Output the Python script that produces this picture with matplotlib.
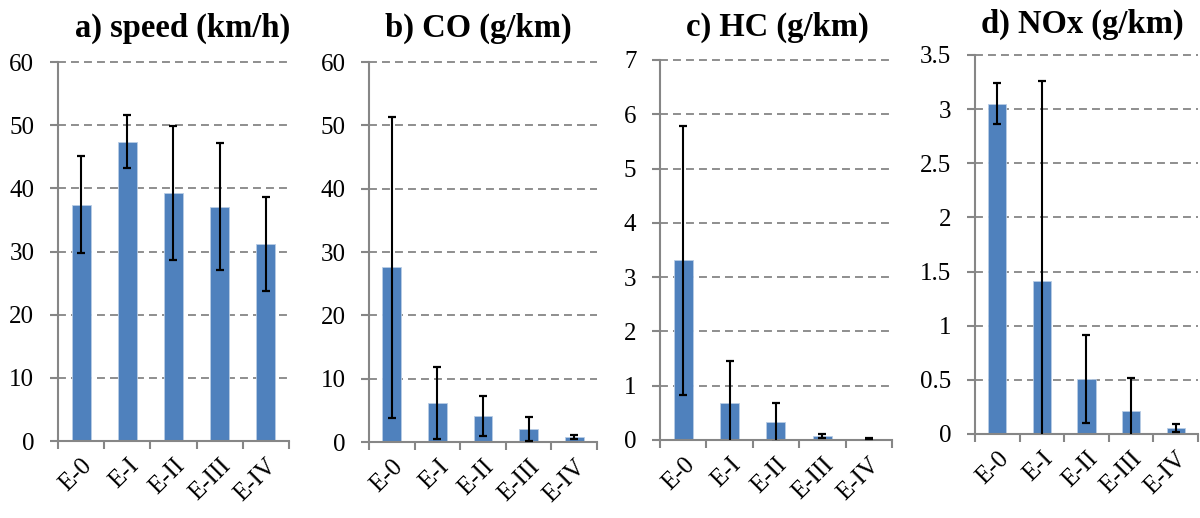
import matplotlib
matplotlib.use("Agg")
from matplotlib import pyplot as plt

# emission classes on the x axis
classes = ["E-0", "E-I", "E-II", "E-III", "E-IV"]

# mean values and standard deviations per class
speed = [37.4, 47.4, 39.2, 37.1, 31.2]
speed_sd = [7.7, 4.25, 10.6, 10.0, 7.4]

co = [27.6, 6.2, 4.1, 2.0, 0.74]
co_sd = [23.75, 5.7, 3.1, 1.9, 0.3]

hc = [3.31, 0.68, 0.33, 0.08, 0.025]
hc_sd = [2.48, 0.77, 0.36, 0.035, 0.01]

nox = [3.05, 1.41, 0.505, 0.21, 0.055]
nox_sd = [0.19, 1.85, 0.405, 0.31, 0.04]

titles = ["a) speed (km/h)", "b) CO (g/km)", "c) HC (g/km)", "d) NOx (g/km)"]
ymax = [60, 60, 7, 3.5]
ystep = [10, 10, 1, 0.5]

# axes boxes [left, bottom, width, height] and title centres
boxes = [
    [0.0483, 0.1486, 0.1925, 0.7317],
    [0.3075, 0.1467, 0.1900, 0.7336],
    [0.5500, 0.1506, 0.1933, 0.7336],
    [0.8125, 0.1622, 0.1858, 0.7317],
]
title_pos = [(0.152, 0.946), (0.399, 0.946), (0.648, 0.948), (0.902, 0.952)]

bar_color = "#4F81BD"
axis_grey = "#868686"

plt.rcParams["font.family"] = ["Liberation Serif", "DejaVu Serif"]

fig = plt.figure(figsize=(12, 5.18), dpi=100)

data = [(speed, speed_sd), (co, co_sd), (hc, hc_sd), (nox, nox_sd)]

for i, (vals, sd) in enumerate(data):
    ax = fig.add_axes(boxes[i])
    x = range(len(classes))
    ax.bar(x, vals, width=0.41, color=bar_color, edgecolor="#B9CDE5",
           linewidth=0.6, zorder=2)
    ax.errorbar(x, vals, yerr=sd, fmt="none", ecolor="black", elinewidth=1.5,
                capsize=3, capthick=1.6, zorder=3)

    ax.set_xlim(-0.5, len(classes) - 0.5)
    ax.set_ylim(0, ymax[i])
    n = int(round(ymax[i] / ystep[i]))
    yt = [k * ystep[i] for k in range(n + 1)]
    ax.set_yticks(yt)
    ax.set_yticklabels([("%g" % v) for v in yt], fontsize=18,
                       family="Liberation Serif")

    # category boundary ticks below the axis, labels in the middle
    ax.set_xticks([k - 0.5 for k in range(len(classes) + 1)])
    ax.set_xticklabels([])
    ax.set_xticks(list(x), minor=True)
    ax.set_xticklabels(classes, minor=True, rotation=45, ha="right",
                       rotation_mode="anchor", fontsize=18,
                       family="Liberation Serif")
    ax.tick_params(axis="x", which="minor", length=0, pad=10)
    ax.tick_params(axis="x", which="major", length=6, color=axis_grey, width=1.5)
    ax.tick_params(axis="y", length=6, color=axis_grey, width=1.5, pad=11)

    for yv in yt[1:]:
        ax.axhline(yv, color=axis_grey, linestyle=(0, (4.4, 2.8)), linewidth=1.3,
                   zorder=1, clip_on=False)

    for s in ["top", "right"]:
        ax.spines[s].set_visible(False)
    for s in ["left", "bottom"]:
        ax.spines[s].set_color(axis_grey)
        ax.spines[s].set_linewidth(1.5)
    ax.set_facecolor("none")

    fig.text(title_pos[i][0], title_pos[i][1], titles[i], ha="center",
             va="center", fontsize=23.5, fontweight="bold",
             family="Liberation Serif")

fig.savefig("out.png", dpi=100)
